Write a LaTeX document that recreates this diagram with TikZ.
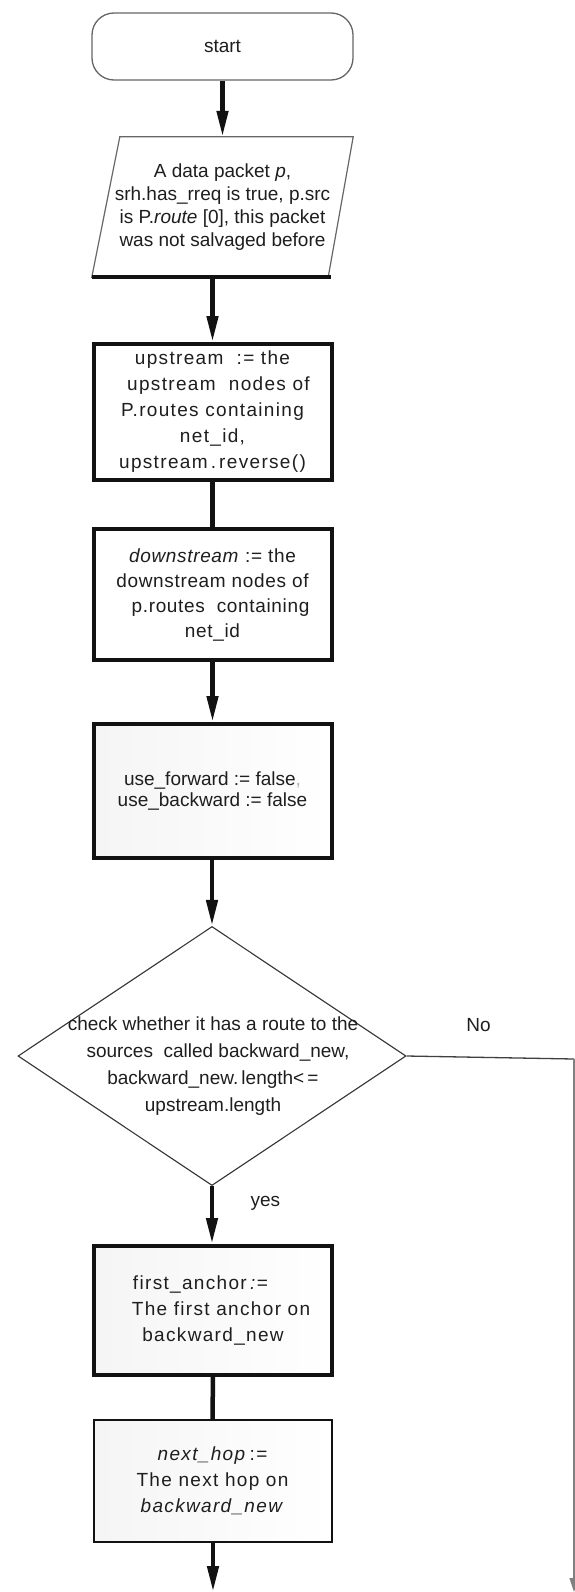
\documentclass[tikz,border=0pt]{standalone}
\usepackage{fontspec}
\setmainfont{Liberation Sans}
\newfontfamily\spc[LetterSpace=7]{Liberation Sans}
\newfontfamily\spcb[LetterSpace=3.5]{Liberation Sans}
\usetikzlibrary{arrows.meta,shapes.geometric,calc}
\definecolor{ink}{HTML}{1E1E1E}
\begin{document}
\begin{tikzpicture}[x=1pt,y=-1pt,
  every node/.style={font=\fontsize{19}{23}\selectfont, text=ink},
  terminal/.style={draw=black!60, line width=1.3pt, rounded corners=22pt,
    minimum width=261pt, minimum height=67pt, inner sep=0pt},
  box/.style={draw=black!93, line width=4pt, minimum width=238pt, inner sep=0pt,
    align=center, fill=white},
  grad/.style={left color=black!4, right color=white},
  dia/.style={diamond, draw=black!80, line width=1.1pt, minimum width=388pt,
    minimum height=259pt, inner sep=0pt},
  conn/.style={line width=4.5pt, draw=black!93},
  arr/.style={conn, -{Triangle[length=26pt,width=11pt]}},
  thinarr/.style={line width=1.2pt, -{Triangle[length=14pt,width=9pt]}}
]
\useasboundingbox (0,0) rectangle (575,1592);
\clip (0,0) rectangle (575,1592);
\fill[white] (0,0) rectangle (575,1592);

% start
\node[terminal] (start) at (222.5,46.5) {start};

% input parallelogram
\node[inner sep=0pt, minimum width=261pt, minimum height=140pt, align=center] (in) at (222.5,207)
  {A data packet \textit{p},\\ srh.has\_rreq is true, p.src\\ is P.\textit{route} [0], this packet\\ was not salvaged before};
\draw[black!60, line width=1.2pt] ($(in.north west)+(28,0)$) -- (in.north east)
  -- ($(in.south east)+(-25,0)$) -- (in.south west) -- cycle;
\draw[line width=4.5pt, black!93] (in.south west) -- ($(in.south east)+(-22,0)$);

% process boxes
\node[box, minimum height=136pt, font=\fontsize{19}{26}\selectfont\spc] (up) at (212.5,412)
  {upstream\ \ := the\\ \hspace*{12pt}upstream\ \ nodes of\\ P.routes containing\\ net\_id,\\ upstream\,.\,reverse()};
\node[box, minimum height=131pt, font=\fontsize{19}{25}\selectfont\spcb] (down) at (212.5,594.5)
  {\textit{downstream} := the\\ downstream nodes of\\ \hspace*{16pt}p.routes\ \ containing\\ net\_id};
\node[box, grad, minimum height=134pt, font=\fontsize{19}{21}\selectfont] (uf) at (212.5,791)
  {use\_forward := false{\color{black!30},}\\ use\_backward := false};

% decision
\node[dia] (dec) at (212,1056) {};
\node[align=center, font=\fontsize{19}{27}\selectfont, inner sep=0pt] (dectxt) at (213,1066)
  {check whether it has a route to the\\ \hspace*{10pt}sources\ \ called backward\_new,\\ backward\_new.\,length<\,=\hspace*{10pt}\\ upstream.length};

\node[box, grad, minimum height=129pt, font=\fontsize{19}{26}\selectfont\spc] (fa) at (213,1310.5)
  {first\_anchor\,\textit{:=}\hspace*{24pt}\\ \hspace*{16pt}The first anchor on\\ backward\_new};
\node[box, grad, line width=2pt, minimum height=122pt, font=\fontsize{19}{26}\selectfont\spc] (nh) at (212.5,1481)
  {\textit{next\_hop}\,:=\\ The next hop on\\ \textit{backward\_new}};

% connectors
\draw[arr] (start.south) -- (in.north);
\draw[arr] (in.south -| up.north) -- (up.north);
\draw[conn] (up) -- (down);
\draw[arr] (down) -- (uf);
\draw[arr] (uf.south -| dec.north) -- (dec.north);
\draw[arr] (dec.south) -- node[pos=0.3, anchor=west, xshift=33pt] (yes) {yes} (fa.north -| dec.south);
\draw[conn] (fa) -- (nh);
\coordinate (end) at (213,1592);
\draw[arr] (nh.south -| end) -- (end);

\coordinate (turn) at (574,1059);
\coordinate (noend) at (574,1592);
\draw[line width=1.3pt, black!75] (dec.east) -- node[pos=0.43, above=22pt] (no) {No} (turn);
\draw[thinarr, black!50] (turn) -- (noend);
\end{tikzpicture}
\end{document}
